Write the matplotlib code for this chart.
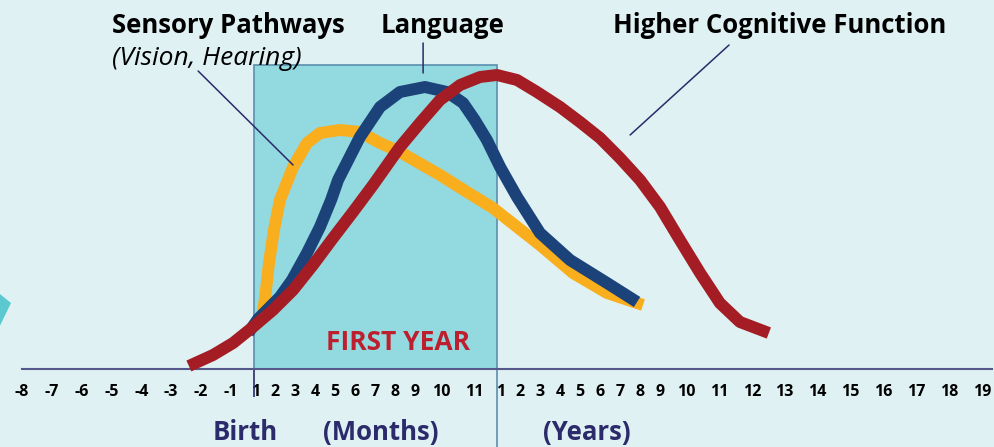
import numpy as np
import matplotlib
matplotlib.use('Agg')
import matplotlib.pyplot as plt
from matplotlib.patches import Rectangle, Polygon

W, H = 995, 447

# age labels along the timeline (prenatal months, months, years)
prenatal = ['-8', '-7', '-6', '-5', '-4', '-3', '-2', '-1']
months = ['1', '2', '3', '4', '5', '6', '7', '8', '9', '10', '11']
years = ['1', '2', '3', '4', '5', '6', '7', '8', '9', '10',
         '11', '12', '13', '14', '15', '16', '17', '18', '19']
age_labels = prenatal + months + years

# curves: x = position along the age labels (0 = "-8"), y = development level
sensory_x = [8.18, 8.38, 8.53, 8.68, 8.93, 9.23, 9.63, 9.89, 10.59, 11.24,
             12.25, 13.25, 14.26, 15.26, 16.96, 17.79, 18.72, 20.99, 22.65,
             24.36, 26.17]
sensory_y = [47, 56, 79, 106, 139, 169, 189, 202, 226, 236,
             239, 237, 226, 217, 194, 177, 161, 124, 96,
             76, 64]

language_x = [7.71, 8.13, 9.23, 9.84, 10.59, 11.24, 11.80, 12.15, 13.25, 14.26,
              15.26, 16.39, 17.18, 17.67, 18.03, 18.49, 18.99, 19.84, 20.99,
              22.50, 24.36, 25.87]
language_y = [36, 50, 72, 89, 116, 142, 169, 189, 232, 262,
              277, 282, 277, 266, 249, 229, 202, 172, 136,
              109, 86, 67]

cognitive_x = [5.60, 6.41, 7.10, 7.90, 8.88, 9.89, 10.89, 11.90, 12.90, 13.91,
               15.26, 16.20, 16.96, 17.58, 18.23, 18.87, 19.84, 20.84, 22.0,
               23.0, 24.01, 25.01, 26.02, 27.02, 27.77, 28.43, 29.03, 29.64,
               30.52]
cognitive_y = [3, 14, 26, 42, 59, 79, 104, 131, 157, 184,
               222, 246, 269, 284, 292, 294, 289, 277, 262,
               247, 231, 211, 189, 162, 129, 96, 66, 47,
               36]

first_year = (7.93, 18.86)
box_top = 304

BG = '#DFF1F3'
BOX = '#93D9E0'
BOX_EDGE = '#5B8FAE'
YELLOW = '#F9AE1D'
BLUE = '#1B4279'
RED = '#A51D24'
NAVY = '#2B2A6A'
CRIMSON = '#BD1F2E'
TEAL = '#5CC9D1'

plt.rcParams['font.family'] = ['Open Sans', 'DejaVu Sans']

# label spacing follows the width of each label, like a line of text
DIGIT_W = {1: 12.0, 2: 25.0}
DASH_W = 9.9
GAP = 7.9


def label_width(s):
    return (DASH_W if s.startswith('-') else 0) + DIGIT_W[len(s.lstrip('-'))]


tick_px = [22.0]
for a, b in zip(age_labels[:-1], age_labels[1:]):
    tick_px.append(tick_px[-1] + (label_width(a) + label_width(b)) / 2 + GAP)
tick_px = np.array(tick_px)
tick_idx = np.arange(len(age_labels), dtype=float)
ext_idx = np.r_[-50, tick_idx, len(age_labels) + 50]
ext_px = np.r_[tick_px[0] - 50 * 29.8, tick_px, tick_px[-1] + 50 * 32.9]


def fwd(x):
    return np.interp(x, ext_idx, ext_px)


def inv(p):
    return np.interp(p, ext_px, ext_idx)


fig = plt.figure(figsize=(W / 100, H / 100), dpi=100)
fig.patch.set_facecolor(BG)
ax = fig.add_axes([0, 0, 1, 1])
ax.set_facecolor(BG)
ax.set_xscale('function', functions=(fwd, inv))
ax.set_xlim(inv(0), inv(W))
ax.set_ylim(-78, 369)

# first year box
ax.add_patch(Rectangle((first_year[0], 0), first_year[1] - first_year[0], box_top,
                       facecolor=BOX, edgecolor=BOX_EDGE, lw=1.2, zorder=1))
ax.vlines(first_year[0], -28, 0, color=NAVY, lw=1.2, zorder=2)
ax.vlines(first_year[1], -78, 0, color=BOX_EDGE, lw=1.2, zorder=2)

# curves
lw = 8.6
ax.plot(sensory_x, sensory_y, color=YELLOW, lw=lw, solid_capstyle='butt',
        solid_joinstyle='round', zorder=3)
ax.plot(language_x, language_y, color=BLUE, lw=lw, solid_capstyle='butt',
        solid_joinstyle='round', zorder=4)
ax.plot(cognitive_x, cognitive_y, color=RED, lw=lw, solid_capstyle='butt',
        solid_joinstyle='round', zorder=5)

# leader lines
line_kw = dict(arrowprops=dict(arrowstyle='-', color=NAVY, lw=1.1,
                               shrinkA=0, shrinkB=0), zorder=6)
ax.annotate('', xy=(9.89, 204), xytext=(5.91, 298), **line_kw)
ax.annotate('', xy=(16.32, 296), xytext=(16.32, 326), **line_kw)
ax.annotate('', xy=(25.52, 234), xytext=(29.31, 324), **line_kw)

# axis
ax.spines[['top', 'right', 'left']].set_visible(False)
ax.spines['bottom'].set_position(('data', 0))
ax.spines['bottom'].set_bounds(inv(22), inv(992))
ax.spines['bottom'].set_color('#55588A')
ax.spines['bottom'].set_linewidth(1.5)
ax.spines['bottom'].set_zorder(2.5)
ax.set_yticks([])
ax.set_xticks(tick_idx, age_labels)
ax.tick_params(axis='x', length=0, pad=10.5, labelsize=11.5, labelcolor='black')
for t in ax.get_xticklabels():
    t.set_fontweight('bold')


def px(x, y):
    return x / W, 1 - y / H


title_kw = dict(fontsize=18.5, fontweight='bold', color='black', va='baseline', ha='left')
fig.text(*px(112, 33), 'Sensory Pathways', **title_kw)
fig.text(*px(112, 65), '(Vision, Hearing)', fontsize=19, style='italic',
         color='black', va='baseline', ha='left')
fig.text(*px(381, 33), 'Language', **title_kw)
fig.text(*px(613, 33), 'Higher Cognitive Function', **title_kw)
fig.text(*px(326, 350), 'FIRST YEAR', fontsize=19, fontweight='bold',
         color=CRIMSON, va='baseline', ha='left', zorder=7)

bottom_kw = dict(fontsize=18.5, fontweight='bold', color=NAVY, va='baseline', ha='left')
fig.text(*px(213, 440), 'Birth', **bottom_kw)
fig.text(*px(323, 440), '(Months)', **bottom_kw)
fig.text(*px(543, 440), '(Years)', **bottom_kw)

# decorative shape at the left edge
fig.patches.append(Polygon([px(-5, 290), px(11, 303), px(-5, 336)], closed=True,
                           facecolor=TEAL, edgecolor='none',
                           transform=fig.transFigure, figure=fig))

fig.savefig('out.png', dpi=100, facecolor=BG)
